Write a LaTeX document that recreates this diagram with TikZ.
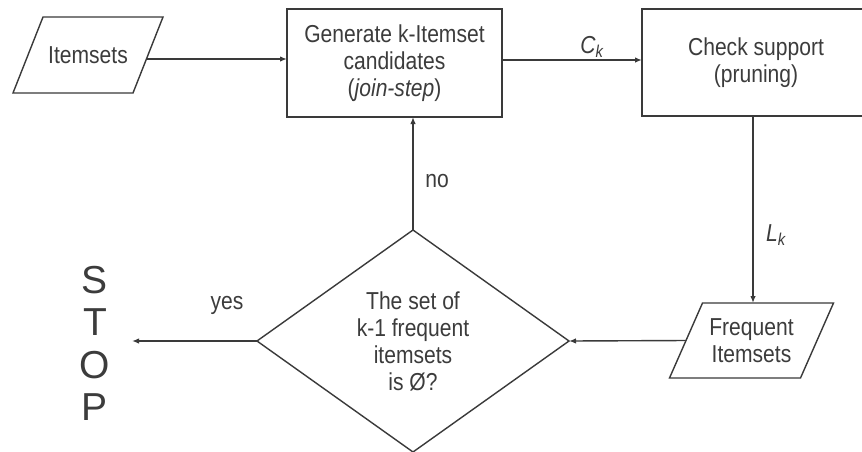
\documentclass[tikz,border=0pt]{standalone}
\usepackage{fontspec}
\setmainfont{Liberation Sans}
\newfontfamily\flowfont[FakeStretch=0.86]{Liberation Sans}
\usetikzlibrary{arrows.meta,shapes.geometric,calc}
\definecolor{inkline}{HTML}{3A3A3A}
\definecolor{inktext}{HTML}{3C3C3C}

\begin{document}
\begin{tikzpicture}[x=1pt,y=-1pt,
  every node/.style={text=inktext, inner sep=0pt, outer sep=0pt,
    font=\flowfont\fontsize{24.5}{27}\selectfont},
  proc/.style={draw=inkline, line width=1.4pt, rectangle, align=center},
  io/.style={rectangle, align=center},
  ioline/.style={draw=inkline, line width=1.4pt, line join=miter},
  decision/.style={draw=inkline, line width=1.4pt, diamond, align=center},
  flow/.style={draw=inkline, line width=1.4pt, -{Latex[length=7pt,width=5.5pt]}}]

\clip (0,0) rectangle (862,451);
\fill[white] (0,0) rectangle (862,451);

% input / output parallelograms (text node + slanted outline)
\node[io, minimum width=120, minimum height=76] (itm) at (88,55) {Itemsets};
\draw[ioline] ([xshift=15]itm.north west) -- ([xshift=15]itm.north east)
  -- ([xshift=-15]itm.south east) -- ([xshift=-15]itm.south west) -- cycle;

\node[io, minimum width=131, minimum height=75] (frq) at (751.5,340.5) {Frequent\\Itemsets};
\draw[ioline] ([xshift=16.5]frq.north west) -- ([xshift=16.5]frq.north east)
  -- ([xshift=-16.5]frq.south east) -- ([xshift=-16.5]frq.south west) -- cycle;

% process boxes
\node[proc, minimum width=215, minimum height=108] (gen) at (394.5,63)
  {Generate k-Itemset\\candidates\\(\textit{join-step})};
\node[proc, minimum width=228, minimum height=107] (chk) at (756,62.5)
  {Check support\\(pruning)};

% decision
\node[decision, minimum width=312, minimum height=222] (dia) at (413,341)
  {The set of\\k-1 frequent\\itemsets\\is Ø?};

% terminal
\node[align=center, font=\normalfont\fontsize{39}{42.3}\selectfont] (stop) at (95,343.5)
  {S\\T\\O\\P};
\coordinate (stopin) at (132,341);

% connectors
\draw[flow] ($(itm.east)+(-1.6,4)$) -- ($(gen.west)+(0,-4)$);
\draw[flow] ($(gen.east)+(0,-3)$) -- ($(chk.west)+(0,-2.5)$);
\draw[flow] ($(chk.south)+(-3,0)$) -- ($(frq.north)+(1.5,0)$);
\draw[flow] (frq.west) -- (dia.east);
\draw[flow] (dia.north) -- (dia.north |- gen.south);
\draw[flow] (dia.west) -- (stopin);

% connector labels
\node (ck) at (592,47) {\itshape C\textsubscript{k}};
\node (lk) at (776,235) {\itshape L\textsubscript{k}};
\node (no) at (437,181) {no};
\node (yes) at (227,305) {yes};
\end{tikzpicture}
\end{document}
